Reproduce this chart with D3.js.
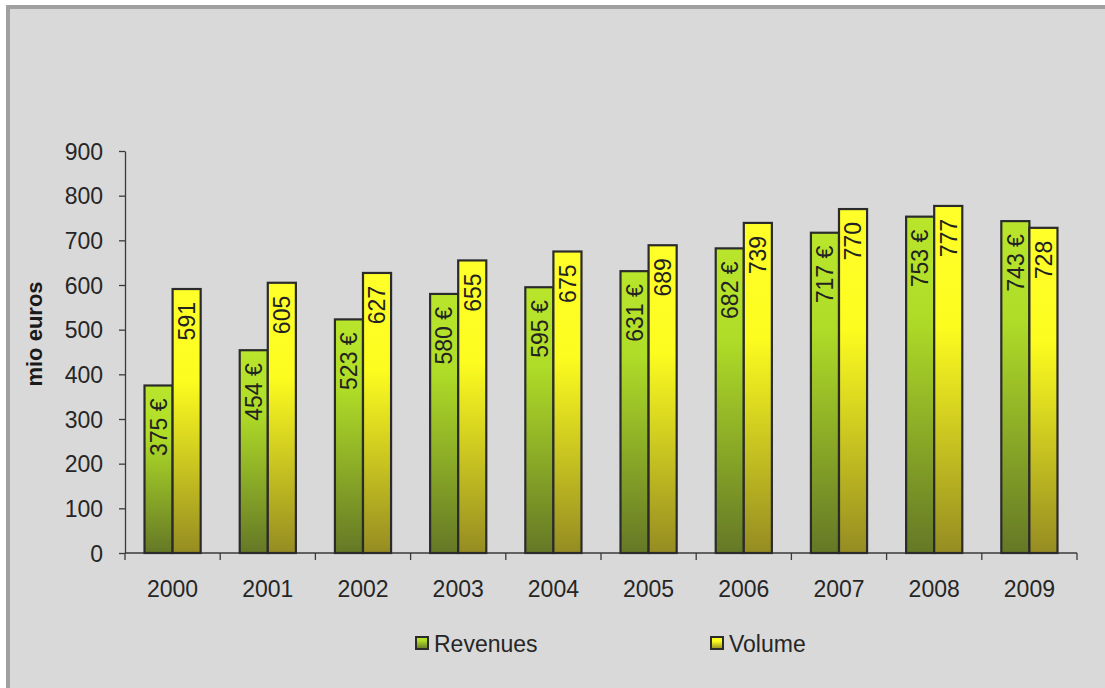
<!DOCTYPE html>
<html>
<head>
<meta charset="utf-8">
<script src="https://cdn.jsdelivr.net/npm/d3@7"></script>
<style>
  html, body { margin: 0; padding: 0; background: #ffffff; }
  svg { display: block; font-family: Arial, "Liberation Sans", sans-serif; }
</style>
</head>
<body>
<svg id="chart" width="1105" height="688"></svg>
<script>
// Annual figures
const years = ["2000", "2001", "2002", "2003", "2004", "2005", "2006", "2007", "2008", "2009"];
const revenues = [375, 454, 523, 580, 595, 631, 682, 717, 753, 743];
const volume = [591, 605, 627, 655, 675, 689, 739, 770, 777, 728];
const seriesNames = ["Revenues", "Volume"];
const yTicks = [0, 100, 200, 300, 400, 500, 600, 700, 800, 900];

const svg = d3.select("#chart");

// gradients for the two series
const defs = svg.append("defs");
function addGradient(id, stops) {
  const g = defs.append("linearGradient").attr("id", id)
    .attr("x1", 0).attr("y1", 0).attr("x2", 0).attr("y2", 1);
  stops.forEach(s => g.append("stop").attr("offset", s[0]).attr("stop-color", s[1]));
}
addGradient("gradRev", [[0, "#b9e62c"], [0.3, "#afdc27"], [1, "#657826"]]);
addGradient("gradVol", [[0, "#ffff2a"], [0.35, "#fcfc1f"], [1, "#958c22"]]);
const fills = { Revenues: "url(#gradRev)", Volume: "url(#gradVol)" };

// chart area frame
svg.append("rect")
  .attr("x", 8).attr("y", 7).attr("width", 1200).attr("height", 800)
  .attr("fill", "#d9d9d9").attr("stroke", "#a0a0a0").attr("stroke-width", 4);

const plotLeft = 125, plotRight = 1077, plotTop = 151, plotBottom = 553;

const x0 = d3.scaleBand().domain(years).range([plotLeft, plotRight])
  .paddingInner(0.41).paddingOuter(0.205);
const x1 = d3.scaleBand().domain(seriesNames).range([0, x0.bandwidth()]);
const y = d3.scaleLinear().domain([0, 900]).range([plotBottom, plotTop]);

const axisColor = "#3a3a3a";
const textColor = "#262626";

// y axis
const yAxis = svg.append("g").attr("transform", `translate(${plotLeft},0)`)
  .call(d3.axisLeft(y).tickValues(yTicks).tickSize(6).tickPadding(16).tickSizeOuter(0));
yAxis.select(".domain").attr("stroke", axisColor).attr("stroke-width", 1.3);
yAxis.selectAll(".tick line").attr("stroke", axisColor).attr("stroke-width", 1.3);
yAxis.selectAll(".tick text").attr("fill", textColor)
  .style("font-size", "23px").style("font-family", "Arial, 'Liberation Sans', sans-serif")
  .attr("dy", "0.36em");

// x axis: baseline and category separators
svg.append("line").attr("x1", plotLeft).attr("x2", plotRight).attr("y1", plotBottom).attr("y2", plotBottom)
  .attr("stroke", axisColor).attr("stroke-width", 1.3);
const step = x0.step();
d3.range(years.length + 1).forEach(i => {
  const xp = plotLeft + i * step;
  svg.append("line").attr("x1", xp).attr("x2", xp).attr("y1", plotBottom).attr("y2", plotBottom + 7)
    .attr("stroke", axisColor).attr("stroke-width", 1.3);
});
svg.append("g").selectAll("text").data(years).join("text")
  .attr("x", d => x0(d) + x0.bandwidth() / 2)
  .attr("y", 597)
  .attr("text-anchor", "middle")
  .attr("fill", textColor)
  .style("font-size", "23px")
  .text(d => d);

// bars
const rows = years.map((yr, i) => ({ year: yr, Revenues: revenues[i], Volume: volume[i] }));
const groups = svg.append("g").selectAll("g").data(rows).join("g")
  .attr("transform", d => `translate(${x0(d.year)},0)`);

const cells = groups.selectAll("g.cell")
  .data(d => seriesNames.map(k => ({ key: k, value: d[k] })))
  .join("g").attr("class", "cell");

cells.append("rect")
  .attr("x", d => x1(d.key))
  .attr("y", d => y(d.value))
  .attr("width", x1.bandwidth())
  .attr("height", d => y(0) - y(d.value))
  .attr("fill", d => fills[d.key])
  .attr("stroke", "#2b2b2b")
  .attr("stroke-width", 2.2);

// value labels, written upward inside the top of each bar
cells.append("text")
  .attr("transform", d => {
    const cx = x1(d.key) + x1.bandwidth() / 2;
    const ty = y(d.value) + 13;
    return `translate(${cx},${ty}) rotate(-90)`;
  })
  .attr("text-anchor", "end")
  .attr("dy", "0.36em")
  .attr("fill", "#222")
  .style("font-size", "23px")
  .text(d => d.key === "Revenues" ? `${d.value} €` : `${d.value}`);

// y axis title
svg.append("text")
  .attr("transform", "translate(42,334) rotate(-90)")
  .attr("text-anchor", "middle")
  .attr("fill", "#1a1a1a")
  .style("font-size", "22px")
  .style("font-weight", "bold")
  .text("mio euros");

// legend
const legendItems = [
  { key: "Revenues", x: 415 },
  { key: "Volume", x: 710 }
];
const lg = svg.append("g").selectAll("g").data(legendItems).join("g")
  .attr("transform", d => `translate(${d.x},636)`);
lg.append("rect")
  .attr("x", 1).attr("y", 1).attr("width", 12).attr("height", 12)
  .attr("fill", d => fills[d.key])
  .attr("stroke", "#2b2b2b").attr("stroke-width", 2);
lg.append("text")
  .attr("x", 19).attr("y", 16)
  .attr("fill", textColor)
  .style("font-size", "23px")
  .text(d => d.key);
</script>
</body>
</html>
